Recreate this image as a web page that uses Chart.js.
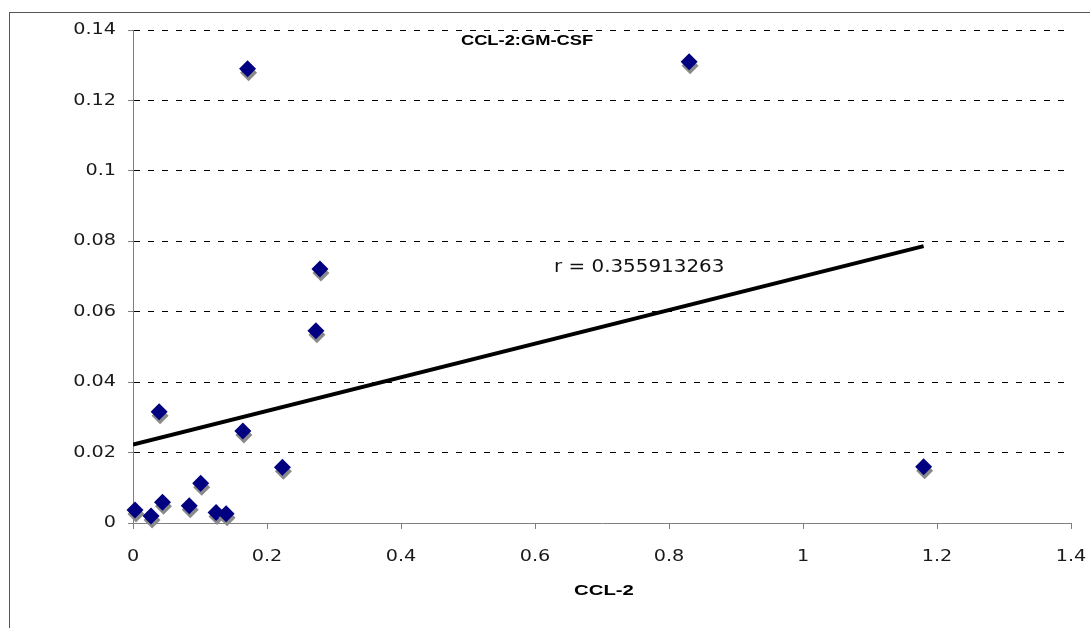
<!DOCTYPE html>
<html>
<head>
<meta charset="utf-8">
<title>CCL-2:GM-CSF</title>
<script src="https://cdn.jsdelivr.net/npm/chart.js@4.4.1/dist/chart.umd.min.js"></script>
<style>
  html, body { margin: 0; padding: 0; background: #fff; }
  #wrap { width: 1090px; height: 628px; }
</style>
</head>
<body>
<div id="wrap"><canvas id="chart1" width="1090" height="628"></canvas></div>
<script>
// CCL-2 (x) against GM-CSF (y)
var ccl2  = [0.003, 0.027, 0.039, 0.044, 0.084, 0.101, 0.124, 0.139, 0.164, 0.171, 0.223, 0.273, 0.279, 0.83, 1.18];
var gmcsf = [0.0037, 0.002, 0.0316, 0.0059, 0.0049, 0.0113, 0.003, 0.0026, 0.0261, 0.129, 0.0158, 0.0546, 0.0721, 0.131, 0.016];

var xTicks = [0, 0.2, 0.4, 0.6, 0.8, 1, 1.2, 1.4];
var xTickLabels = ["0", "0.2", "0.4", "0.6", "0.8", "1", "1.2", "1.4"];
var yTicks = [0, 0.02, 0.04, 0.06, 0.08, 0.1, 0.12, 0.14];
var yTickLabels = ["0", "0.02", "0.04", "0.06", "0.08", "0.1", "0.12", "0.14"];

var chartTitle = "CCL-2:GM-CSF";
var xTitle = "CCL-2";
var rLabel = "r = 0.355913263";

// least squares line through the points
function fitLine(xs, ys) {
	var n = xs.length, sx = 0, sy = 0, sxx = 0, sxy = 0;
	for (var i = 0; i < n; i++) {
		sx += xs[i]; sy += ys[i];
		sxx += xs[i] * xs[i]; sxy += xs[i] * ys[i];
	}
	var slope = (n * sxy - sx * sy) / (n * sxx - sx * sx);
	return { slope: slope, icept: (sy - slope * sx) / n };
}

var fit = fitLine(ccl2, gmcsf);
var xMax = Math.max.apply(null, ccl2);
var points = ccl2.map(function(x, i) { return { x: x, y: gmcsf[i] }; });
var trend = [
	{ x: 0, y: fit.icept },
	{ x: xMax, y: fit.icept + fit.slope * xMax }
];

// grey drop shadow under the diamonds only
var markerShadow = {
	id: "markerShadow",
	beforeDatasetDraw: function(chart, args) {
		if (args.index !== 0) return;
		var ctx = chart.ctx;
		ctx.save();
		ctx.shadowColor = "#8a8a8a";
		ctx.shadowBlur = 0;
		ctx.shadowOffsetX = 1;
		ctx.shadowOffsetY = 4;
	},
	afterDatasetDraw: function(chart, args) {
		if (args.index !== 0) return;
		chart.ctx.restore();
	}
};

// text drawn a little wider than the font's own width
function wideText(ctx, text, x, y, sx, align) {
	ctx.save();
	ctx.translate(x, y);
	ctx.scale(sx, 1);
	ctx.textAlign = align;
	ctx.fillText(text, 0, 0);
	ctx.restore();
}

// frame, tick labels, titles and the r label
var decorations = {
	id: "decorations",
	beforeDraw: function(chart) {
		var ctx = chart.ctx;
		ctx.save();
		ctx.strokeStyle = "#555";
		ctx.lineWidth = 1;
		ctx.strokeRect(9.5, 12.5, 2000, 2000);
		ctx.restore();
	},
	afterDraw: function(chart) {
		var ctx = chart.ctx;
		var xs = chart.scales.x, ys = chart.scales.y;
		ctx.save();
		ctx.textBaseline = "middle";
		ctx.fillStyle = "#1a1a1a";
		ctx.font = "16px 'DejaVu Sans', Verdana, sans-serif";

		xTicks.forEach(function(v, i) {
			wideText(ctx, xTickLabels[i], xs.getPixelForValue(v), ys.bottom + 34, 1.2, "center");
		});
		yTicks.forEach(function(v, i) {
			wideText(ctx, yTickLabels[i], xs.left - 17, ys.getPixelForValue(v), 1.2, "right");
		});

		ctx.fillStyle = "#000";
		ctx.font = "bold 15px 'Liberation Sans', Arial, sans-serif";
		wideText(ctx, chartTitle, 527, 41, 1.22, "center");
		ctx.font = "bold 14px 'Liberation Sans', Arial, sans-serif";
		wideText(ctx, xTitle, 604, 591, 1.45, "center");

		ctx.fillStyle = "#111";
		ctx.font = "17px 'DejaVu Sans', Verdana, sans-serif";
		wideText(ctx, rLabel, 554, 268, 1.17, "left");
		ctx.restore();
	}
};

var chart = new Chart(document.getElementById("chart1"), {
	type: "scatter",
	data: {
		datasets: [{
			label: "CCL-2:GM-CSF",
			data: points,
			pointStyle: "rectRot",
			pointRadius: 8.5,
			pointHoverRadius: 8.5,
			backgroundColor: "#000080",
			borderWidth: 0,
			clip: false
		}, {
			type: "line",
			label: "trend",
			data: trend,
			borderColor: "#000",
			borderWidth: 4,
			pointRadius: 0,
			fill: false,
			tension: 0
		}]
	},
	options: {
		responsive: false,
		animation: false,
		layout: {
			padding: { top: 30, right: 19, left: 0, bottom: 0 }
		},
		plugins: {
			legend: { display: false },
			tooltip: { enabled: false },
			title: { display: false }
		},
		scales: {
			x: {
				type: "linear",
				min: 0,
				max: 1.4,
				afterBuildTicks: function(s) {
					s.ticks = xTicks.map(function(v) { return { value: v }; });
				},
				afterFit: function(s) { s.height = 105; },
				grid: {
					drawOnChartArea: false,
					tickLength: 6,
					tickColor: "#808080"
				},
				border: { color: "#808080", width: 1 },
				ticks: { color: "rgba(0,0,0,0)", maxRotation: 0 }
			},
			y: {
				type: "linear",
				min: 0,
				max: 0.14,
				afterBuildTicks: function(s) {
					s.ticks = yTicks.map(function(v) { return { value: v }; });
				},
				afterFit: function(s) { s.width = 133; },
				grid: {
					color: "#000",
					lineWidth: 1,
					tickLength: 5,
					tickColor: "#808080",
					tickBorderDash: []
				},
				border: { color: "#808080", width: 1, dash: [6, 8] },
				ticks: { color: "rgba(0,0,0,0)" }
			}
		}
	},
	plugins: [markerShadow, decorations]
});
</script>
</body>
</html>
